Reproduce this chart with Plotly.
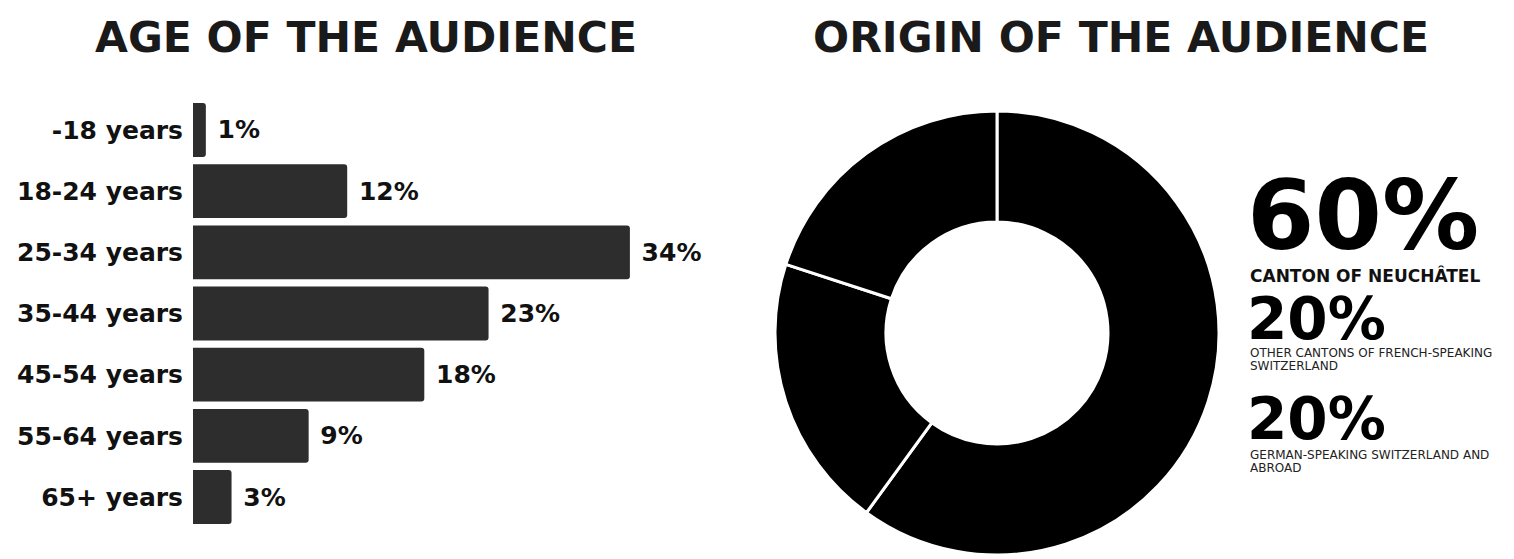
import plotly.graph_objects as go

# data
age_groups = ["-18 years", "18-24 years", "25-34 years", "35-44 years",
              "45-54 years", "55-64 years", "65+ years"]
age_share = [1, 12, 34, 23, 18, 9, 3]

origin_labels = ["Canton of Neuchâtel",
                 "Other cantons of French-speaking Switzerland",
                 "German-speaking Switzerland and abroad"]
origin_share = [60, 20, 20]

W, H = 1514, 559
OFF = 8  # page body margin
FONT = "DejaVu Sans"


def px(x):
    return (x - OFF) / W


def py(y):
    return 1 - (y - OFF) / H


fig = go.Figure()

# horizontal bars for age groups
fig.add_trace(go.Bar(
    x=age_share, y=age_groups, orientation="h",
    marker=dict(color="#2d2d2d", cornerradius=3, line=dict(width=0)),
    width=0.88,
    text=[f"\u00a0{v}%" for v in age_share], textposition="outside",
    textfont=dict(family=FONT, size=25, color="#111", weight=700),
    cliponaxis=False, showlegend=False, hoverinfo="skip",
))

# donut for origin
fig.add_trace(go.Pie(
    labels=origin_labels, values=origin_share, hole=0.5,
    sort=False, direction="clockwise", rotation=0,
    marker=dict(colors=["#000000"] * 3, line=dict(color="white", width=3)),
    textinfo="none", showlegend=False, hoverinfo="skip",
    domain=dict(x=[px(775), px(1219)], y=[py(555), py(111)]),
))

fig.update_xaxes(domain=[px(193), px(720)], range=[0, (720 - 193) / 12.85],
                 visible=False)
fig.update_yaxes(domain=[py(527.6), py(99.4)], range=[6.5, -0.5],
                 showgrid=False, zeroline=False, showline=False, ticks="",
                 ticklabelstandoff=9,
                 tickfont=dict(family=FONT, size=25, color="#111", weight=700))

# titles
for txt, xc in [("AGE OF THE AUDIENCE", 366), ("ORIGIN OF THE AUDIENCE", 1121)]:
    fig.add_annotation(text=txt, x=px(xc), y=py(37), xref="paper", yref="paper",
                       xanchor="center", yanchor="middle", showarrow=False,
                       font=dict(family=FONT, size=42.5, color="#1a1a1a", weight=700))

# legend-like text next to donut
big = [("60%", 215, 97), ("20%", 319, 58), ("20%", 419, 58)]
for txt, yc, sz in big:
    fig.add_annotation(text=txt, x=px(1245), y=py(yc), xref="paper", yref="paper",
                       xanchor="left", yanchor="middle", showarrow=False,
                       font=dict(family=FONT, size=sz, color="#000", weight=700))

fig.add_annotation(text="CANTON OF NEUCHÂTEL", x=px(1248), y=py(275),
                   xref="paper", yref="paper", xanchor="left", yanchor="middle",
                   showarrow=False,
                   font=dict(family=FONT, size=17, color="#111", weight=700))

small = [("OTHER CANTONS OF FRENCH-SPEAKING", 353), ("SWITZERLAND", 366),
         ("GERMAN-SPEAKING SWITZERLAND AND", 455), ("ABROAD", 468)]
for txt, yc in small:
    fig.add_annotation(text=txt, x=px(1248), y=py(yc), xref="paper", yref="paper",
                       xanchor="left", yanchor="middle", showarrow=False,
                       font=dict(family=FONT, size=12, color="#222"))

fig.update_layout(width=W, height=H, margin=dict(l=0, r=0, t=0, b=0),
                  paper_bgcolor="white", plot_bgcolor="white")

fig.write_html("out.html")
